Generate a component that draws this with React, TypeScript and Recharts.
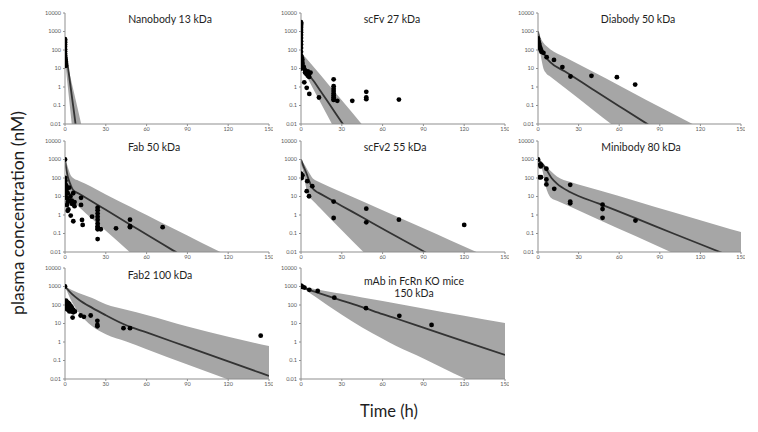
import React from 'react';
import { ComposedChart, Area, Line, Scatter, XAxis, YAxis } from 'recharts';

const yTicks = [0.01, 0.1, 1, 10, 100, 1000, 10000];
const xTicks = [0, 30, 60, 90, 120, 150];

// Nanobody 13 kDa
const nanoT = [0, 1, 2, 3, 5, 8, 12];
const nanoFit = [200, 50, 15, 4.2, 0.33, 0.007, 0.00001];
const nanoLo = [30, 5.8, 1.15, 0.23, 0.0091, 0.00007, 0.0000001];
const nanoHi = [60, 30, 15, 7.2, 1.6, 0.18, 0.0093];
const nanoObsT = [0, 0, 0, 0, 0, 0, 0, 0, 0, 0, 0.3, 0.5, 0.5, 0.7];
const nanoObsC = [380, 320, 260, 200, 150, 110, 85, 65, 50, 40, 32, 24, 18, 14];

// scFv 27 kDa
const scfvT = [0, 1, 3, 4, 10, 20, 30, 45, 60];
const scfvFit = [100, 35, 12, 8, 1.8, 0.15, 0.012, 0.0003, 0.00001];
const scfvLo = [30, 12, 5.4, 3.9, 0.57, 0.024, 0.001, 0.000009, 0.0000001];
const scfvHi = [70, 63, 42, 35, 10.6, 1.4, 0.19, 0.0092, 0.00045];
const scfvObsT = [0, 0, 0, 0, 0, 0, 0, 0, 0, 0, 0, 0, 0, 0, 0, 0, 0, 0, 0.5, 0.5, 0.5, 1, 1, 2, 2.4, 3, 3, 4, 4.2, 5, 5, 6, 6, 6.1, 7, 13.2, 24, 24, 24, 24, 24, 24, 24, 24, 24, 26.7, 37.7, 48, 48, 48, 72];
const scfvObsC = [3200, 2800, 2400, 2000, 1600, 1200, 900, 650, 450, 300, 200, 130, 80, 50, 30, 20, 14, 10, 40, 25, 18, 30, 20, 12, 1.8, 8, 6, 5, 0.9, 7, 4, 5, 3.5, 0.42, 6, 0.27, 2.6, 1.1, 0.8, 0.6, 0.45, 0.35, 0.28, 0.22, 0.2, 0.18, 0.18, 0.55, 0.27, 0.22, 0.21];

// Diabody 50 kDa
const diaT = [0, 1, 2, 4, 6, 9, 20, 40, 60, 80, 100, 120];
const diaFit = [1000, 400, 200, 80, 40, 22, 6.8, 0.79, 0.092, 0.0108, 0.0013, 0.00015];
const diaLo = [300, 120, 50, 10, 5.6, 3.7, 0.88, 0.063, 0.0046, 0.00033, 0.000024, 0.0000017];
const diaHi = [1000, 700, 450, 250, 170, 110, 41, 7, 1.2, 0.2, 0.035, 0.006];
const diaObsT = [0, 0.3, 0.8, 1, 1.5, 2, 2.5, 4, 6.4, 11.8, 18, 24, 39.5, 58.3, 71.8];
const diaObsC = [420, 300, 220, 160, 130, 100, 80, 70, 41, 29, 12, 3.7, 4, 3.4, 1.35];

// Fab 50 kDa
const fabT = [0, 1, 2, 4, 6, 10, 15, 30, 48, 60, 80, 100, 115, 130];
const fabFit = [1000, 300, 120, 45, 22, 14.6, 8.8, 1.9, 0.3, 0.089, 0.0115, 0.0015, 0.00035, 0.00008];
const fabLo = [500, 150, 30, 7, 5.3, 2.8, 1.3, 0.14, 0.0093, 0.0015, 0.00007, 0.000003, 0.0000003, 0.00000003];
const fabHi = [1000, 700, 400, 150, 100, 72, 49, 13, 2.8, 1.0, 0.18, 0.033, 0.0094, 0.0026];
const fabObsT = [0, 0, 0.3, 0.8, 0, 0.5, 1, 1.5, 2, 2, 1.5, 2.5, 3, 3, 4, 4.2, 5, 5, 6, 6.1, 7, 7, 2, 1, 0, 11.8, 11.8, 12.5, 13, 19.9, 24, 24, 24, 24, 24, 24, 24, 24, 24, 24, 26.3, 37.5, 47.8, 47.8, 47.8, 71.8];
const fabObsC = [1000, 100, 70, 40, 12, 10, 25, 8, 15, 5, 3.5, 2, 6, 30, 10, 0.93, 4, 6, 15, 0.46, 5, 3, 1.7, 20, 50, 8.5, 3.5, 0.54, 0.29, 0.81, 2.5, 1.8, 1.2, 0.8, 0.55, 0.35, 0.25, 0.2, 0.17, 0.05, 0.17, 0.19, 0.56, 0.25, 0.22, 0.22];

// scFv2 55 kDa
const s2T = [0, 2, 4, 6, 8, 11, 14, 30, 46, 60, 90, 110, 130, 150];
const s2Fit = [1000, 400, 180, 70, 32, 19, 14.3, 3.1, 0.69, 0.18, 0.011, 0.0016, 0.00024, 0.00003];
const s2Lo = [600, 150, 25, 10, 6.7, 4.1, 2.4, 0.15, 0.0099, 0.0009, 0.000005, 0.0000002, 0.00000001, 0.000000001];
const s2Hi = [1000, 600, 350, 190, 110, 73, 57, 17, 5.2, 1.8, 0.19, 0.042, 0.0093, 0.0021];
const s2ObsT = [0, 0, 0.5, 1, 4.6, 8.3, 4.2, 5.9, 24, 24, 48, 48, 72, 120];
const s2ObsC = [170, 120, 100, 140, 67, 36, 19.5, 10.3, 5.3, 0.69, 2.2, 0.4, 0.56, 0.29];

// Minibody 80 kDa
const miniT = [0, 3, 6, 10, 14, 24, 45, 72, 100, 135, 150];
const miniFit = [1000, 600, 300, 100, 50, 17, 4.1, 0.68, 0.1, 0.0096, 0.0035];
const miniLo = [700, 300, 30, 8, 5.9, 2.8, 0.56, 0.073, 0.0086, 0.00061, 0.00019];
const miniHi = [1000, 700, 420, 220, 120, 60, 22, 5.8, 1.4, 0.25, 0.12];
const miniObsT = [0, 1.7, 2, 2.3, 6.2, 1.2, 2.2, 6.2, 6.2, 12, 23.8, 23.8, 23.8, 47.7, 47.7, 47.7, 72];
const miniObsC = [1000, 540, 420, 500, 320, 110, 110, 83, 45, 26, 43, 5.3, 4.3, 3.6, 2.1, 0.7, 0.5];

// Fab2 100 kDa
const fab2T = [0, 5, 10, 20, 30, 45, 60, 90, 120, 150];
const fab2Fit = [1000, 400, 200, 70, 28, 8, 3.3, 0.54, 0.089, 0.0147];
const fab2Lo = [1000, 150, 40, 7, 2.6, 1.05, 0.41, 0.06, 0.0094, 0.0014];
const fab2Hi = [1000, 650, 450, 240, 110, 55, 29, 6.8, 1.95, 0.6];
const fab2ObsT = [0, 0.7, 0.7, 1.2, 1.7, 1.7, 2.4, 2.4, 2.4, 3.2, 3.2, 3.2, 4.1, 4.1, 4.9, 4.9, 6.1, 6.1, 7.3, 1, 1.5, 5.6, 11.5, 13.9, 18.9, 23.8, 23.8, 23.8, 43, 47.8, 143.9];
const fab2ObsC = [1000, 170, 120, 150, 100, 70, 130, 80, 55, 110, 65, 45, 90, 50, 75, 45, 55, 40, 45, 90, 60, 21, 27, 23, 27, 14, 8.4, 7, 5.6, 5.6, 2.2];

// mAb in FcRn KO mice 150 kDa
const mabT = [0, 6, 10, 20, 30, 45, 60, 70, 90, 120, 150];
const mabFit = [1000, 660, 527, 300, 173, 77, 32, 18.6, 6.0, 1.09, 0.2];
const mabLo = [1000, 480, 300, 90, 30, 6, 1.5, 0.6, 0.13, 0.011, 0.0015];
const mabHi = [1000, 833, 738, 545, 402, 254, 162, 119, 65, 26, 10.5];
const mabObsT = [0, 0.5, 1.2, 2.5, 6.1, 12.3, 24.5, 47.8, 72.3, 96];
const mabObsC = [1100, 1000, 950, 880, 660, 580, 250, 67, 26, 8.4];

const rows = (t: number[], fit: number[], lo: number[], hi: number[]) =>
  t.map((x, i) => ({ t: x, fit: fit[i], band: [lo[i], hi[i]] }));
const pts = (t: number[], c: number[]) => t.map((x, i) => ({ t: x, v: c[i] }));

const FONT = 'Lato, "Open Sans", sans-serif';
const AXIS = '#8f8f8f';

const dotShape = (p: any) => <circle cx={p.cx} cy={p.cy} r={2.4} fill="#000" />;

function Panel(props: { left: number; top: number; w: number; h: number; data: any[]; obs: any[] }) {
  const YW = 25, MT = 4, MR = 4, XH = 12;
  const { left, top, w, h, data, obs } = props;
  const tickStyle = { fontSize: 5.5, fill: '#595959', fontFamily: FONT };
  return (
    <div style={{ position: 'absolute', left: left - YW, top: top - MT }}>
      <ComposedChart width={YW + w + MR} height={MT + h + XH} data={data} margin={{ top: MT, right: MR, bottom: 0, left: 0 }}>
        <XAxis dataKey="t" type="number" domain={[0, 150]} ticks={xTicks} interval={0} allowDataOverflow
          height={XH} tickSize={2} tickMargin={1} tick={tickStyle} stroke={AXIS} />
        <YAxis type="number" scale="log" domain={[0.01, 10000]} ticks={yTicks} interval={0} allowDataOverflow
          width={YW} tickSize={2} tickMargin={2} tick={tickStyle} stroke={AXIS}
          tickFormatter={(v: number) => String(v)} />
        <Area dataKey="band" type="monotone" stroke="none" fill="#a6a6a6" fillOpacity={1}
          dot={false} activeDot={false} isAnimationActive={false} />
        <Line dataKey="fit" type="monotone" stroke="#333333" strokeWidth={1.8}
          dot={false} activeDot={false} isAnimationActive={false} />
        <Scatter data={obs} dataKey="v" fill="#000" shape={dotShape} isAnimationActive={false} />
      </ComposedChart>
    </div>
  );
}

function Title(props: { cx: number; cy: number; lines: string[] }) {
  const lh = 12.7;
  return (
    <div style={{
      position: 'absolute', left: props.cx - 100, width: 200,
      top: props.cy - lh / 2, textAlign: 'center', fontFamily: FONT,
      fontSize: 10.5, lineHeight: lh + 'px', color: '#1e1e1e', whiteSpace: 'nowrap'
    }}>
      {props.lines.map((l, i) => <div key={i}>{l}</div>)}
    </div>
  );
}

export default function App() {
  const W1 = 204, W3 = 203, H = 111;
  return (
    <div style={{ position: 'absolute', left: 0, top: 0, width: 758, height: 432, background: '#fff', overflow: 'hidden' }}>
      <Panel left={65} top={13} w={W1} h={H} data={rows(nanoT, nanoFit, nanoLo, nanoHi)} obs={pts(nanoObsT, nanoObsC)} />
      <Panel left={301} top={13} w={W1} h={H} data={rows(scfvT, scfvFit, scfvLo, scfvHi)} obs={pts(scfvObsT, scfvObsC)} />
      <Panel left={538} top={13} w={W3} h={H} data={rows(diaT, diaFit, diaLo, diaHi)} obs={pts(diaObsT, diaObsC)} />
      <Panel left={65} top={141} w={W1} h={H} data={rows(fabT, fabFit, fabLo, fabHi)} obs={pts(fabObsT, fabObsC)} />
      <Panel left={301} top={141} w={W1} h={H} data={rows(s2T, s2Fit, s2Lo, s2Hi)} obs={pts(s2ObsT, s2ObsC)} />
      <Panel left={538} top={141} w={W3} h={H} data={rows(miniT, miniFit, miniLo, miniHi)} obs={pts(miniObsT, miniObsC)} />
      <Panel left={65} top={268} w={W1} h={H} data={rows(fab2T, fab2Fit, fab2Lo, fab2Hi)} obs={pts(fab2ObsT, fab2ObsC)} />
      <Panel left={301} top={268} w={W1} h={H} data={rows(mabT, mabFit, mabLo, mabHi)} obs={pts(mabObsT, mabObsC)} />

      <Title cx={170} cy={19} lines={['Nanobody 13 kDa']} />
      <Title cx={392} cy={19} lines={['scFv 27 kDa']} />
      <Title cx={638} cy={19} lines={['Diabody 50 kDa']} />
      <Title cx={154} cy={147} lines={['Fab 50 kDa']} />
      <Title cx={395} cy={147} lines={['scFv2 55 kDa']} />
      <Title cx={641} cy={147} lines={['Minibody 80 kDa']} />
      <Title cx={160} cy={275} lines={['Fab2 100 kDa']} />
      <Title cx={414} cy={281} lines={['mAb in FcRn KO mice', '150 kDa']} />

      <div style={{
        position: 'absolute', left: 18 - 140, top: 213 - 14, width: 280, height: 28,
        transform: 'rotate(-90deg)', textAlign: 'center', fontFamily: FONT, fontSize: 17.5,
        lineHeight: '28px', color: '#1e1e1e', whiteSpace: 'nowrap'
      }}>plasma concentration (nM)</div>
      <div style={{
        position: 'absolute', left: 389 - 60, top: 411 - 12, width: 120, height: 24,
        textAlign: 'center', fontFamily: FONT, fontSize: 16.5, lineHeight: '24px', color: '#1e1e1e'
      }}>Time (h)</div>
    </div>
  );
}
